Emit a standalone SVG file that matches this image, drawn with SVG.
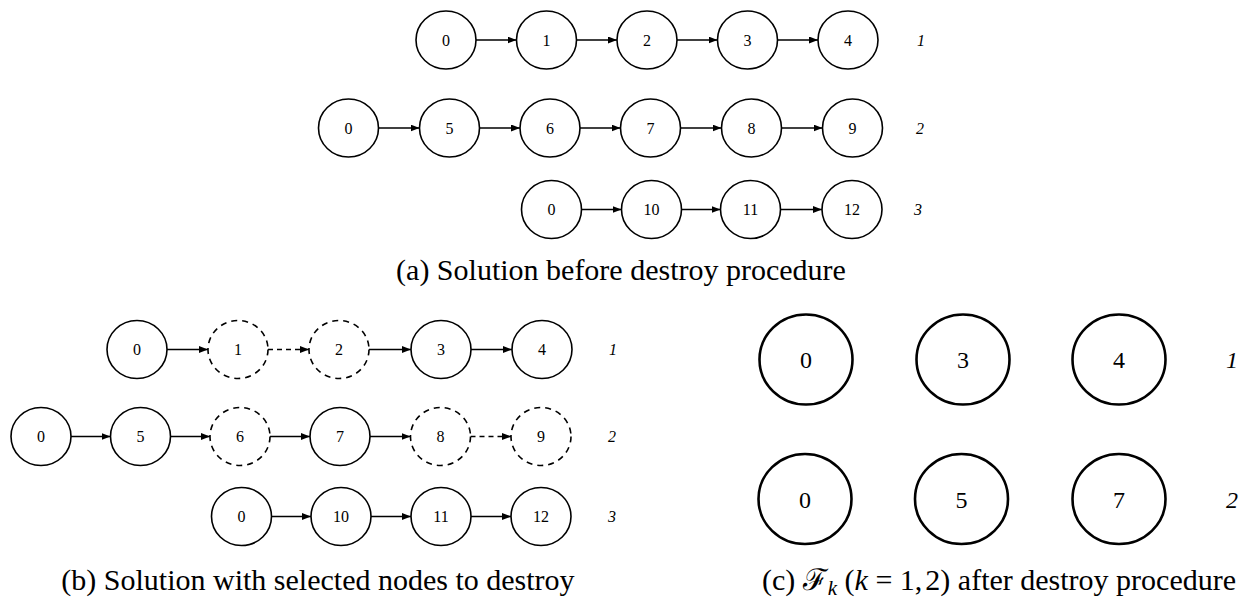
<svg xmlns="http://www.w3.org/2000/svg" width="1244" height="598" viewBox="0 0 1244 598">
  <style>
    .n { fill: #fff; stroke: #000; stroke-width: 1.6; }
    .nd { fill: #fff; stroke: #000; stroke-width: 1.6; stroke-dasharray: 6 5; }
    .nb { fill: #fff; stroke: #000; stroke-width: 2.6; }
    .e { stroke: #000; stroke-width: 1.6; fill: none; }
    .ed { stroke: #000; stroke-width: 1.6; fill: none; stroke-dasharray: 5 4; }
    .t { font-family: "Liberation Serif", "Times New Roman", serif; font-size: 16px; text-anchor: middle; fill: #000; }
    .tb { font-family: "Liberation Serif", "Times New Roman", serif; font-size: 24px; text-anchor: middle; fill: #000; }
    .lab { font-family: "Liberation Serif", "Times New Roman", serif; font-size: 16px; font-style: italic; text-anchor: middle; fill: #000; }
    .labb { font-family: "Liberation Serif", "Times New Roman", serif; font-size: 24px; font-style: italic; text-anchor: middle; fill: #000; }
    .cap { font-family: "Liberation Serif", "Times New Roman", "DejaVu Serif", serif; font-size: 30px; text-anchor: middle; fill: #000; }
  </style>
  <defs>
    <marker id="arr" markerUnits="userSpaceOnUse" markerWidth="9" markerHeight="7" refX="9" refY="3.5" orient="auto">
      <path d="M0,0 L9,3.5 L0,7 z" fill="#000"/>
    </marker>
  </defs>

  <!-- connectors -->
  <g id="connectors">
    <!-- (a) route 1 -->
    <line class="e" x1="476" y1="40" x2="516.5" y2="40" marker-end="url(#arr)"/>
    <line class="e" x1="576.5" y1="40" x2="617" y2="40" marker-end="url(#arr)"/>
    <line class="e" x1="677" y1="40" x2="717.5" y2="40" marker-end="url(#arr)"/>
    <line class="e" x1="777.5" y1="40" x2="818" y2="40" marker-end="url(#arr)"/>
    <!-- (a) route 2 -->
    <line class="e" x1="378.5" y1="128" x2="419.5" y2="128" marker-end="url(#arr)"/>
    <line class="e" x1="479.5" y1="128" x2="520" y2="128" marker-end="url(#arr)"/>
    <line class="e" x1="580" y1="128" x2="620.5" y2="128" marker-end="url(#arr)"/>
    <line class="e" x1="680.5" y1="128" x2="721.5" y2="128" marker-end="url(#arr)"/>
    <line class="e" x1="781.5" y1="128" x2="822.5" y2="128" marker-end="url(#arr)"/>
    <!-- (a) route 3 -->
    <line class="e" x1="581.5" y1="209.5" x2="621.5" y2="209.5" marker-end="url(#arr)"/>
    <line class="e" x1="681.5" y1="209.5" x2="720.5" y2="209.5" marker-end="url(#arr)"/>
    <line class="e" x1="780.5" y1="209.5" x2="822" y2="209.5" marker-end="url(#arr)"/>

    <!-- (b) route 1 -->
    <line class="e" x1="167" y1="349.5" x2="208" y2="349.5" marker-end="url(#arr)"/>
    <line class="ed" x1="268" y1="349.5" x2="309" y2="349.5" marker-end="url(#arr)"/>
    <line class="e" x1="369" y1="349.5" x2="411" y2="349.5" marker-end="url(#arr)"/>
    <line class="e" x1="471" y1="349.5" x2="512" y2="349.5" marker-end="url(#arr)"/>
    <!-- (b) route 2 -->
    <line class="e" x1="71" y1="436.5" x2="110.5" y2="436.5" marker-end="url(#arr)"/>
    <line class="e" x1="170.5" y1="436.5" x2="210" y2="436.5" marker-end="url(#arr)"/>
    <line class="e" x1="270" y1="436.5" x2="310" y2="436.5" marker-end="url(#arr)"/>
    <line class="e" x1="370" y1="436.5" x2="410.5" y2="436.5" marker-end="url(#arr)"/>
    <line class="ed" x1="470.5" y1="436.5" x2="511" y2="436.5" marker-end="url(#arr)"/>
    <!-- (b) route 3 -->
    <line class="e" x1="271.5" y1="516.5" x2="311" y2="516.5" marker-end="url(#arr)"/>
    <line class="e" x1="371" y1="516.5" x2="411" y2="516.5" marker-end="url(#arr)"/>
    <line class="e" x1="471" y1="516.5" x2="511" y2="516.5" marker-end="url(#arr)"/>
  </g>

  <!-- (a) solution before destroy procedure -->
  <g id="a-r1-0"><ellipse class="n" cx="446" cy="40" rx="30" ry="29"/><text class="t" x="446" y="45.5">0</text></g>
  <g id="a-r1-1"><ellipse class="n" cx="546.5" cy="40" rx="30" ry="29"/><text class="t" x="546.5" y="45.5">1</text></g>
  <g id="a-r1-2"><ellipse class="n" cx="647" cy="40" rx="30" ry="29"/><text class="t" x="647" y="45.5">2</text></g>
  <g id="a-r1-3"><ellipse class="n" cx="747.5" cy="40" rx="30" ry="29"/><text class="t" x="747.5" y="45.5">3</text></g>
  <g id="a-r1-4"><ellipse class="n" cx="848" cy="40" rx="30" ry="29"/><text class="t" x="848" y="45.5">4</text></g>
  <text class="lab" x="921" y="45.5">1</text>

  <g id="a-r2-0"><ellipse class="n" cx="348.5" cy="128" rx="30" ry="29"/><text class="t" x="348.5" y="133.5">0</text></g>
  <g id="a-r2-5"><ellipse class="n" cx="449.5" cy="128" rx="30" ry="29"/><text class="t" x="449.5" y="133.5">5</text></g>
  <g id="a-r2-6"><ellipse class="n" cx="550" cy="128" rx="30" ry="29"/><text class="t" x="550" y="133.5">6</text></g>
  <g id="a-r2-7"><ellipse class="n" cx="650.5" cy="128" rx="30" ry="29"/><text class="t" x="650.5" y="133.5">7</text></g>
  <g id="a-r2-8"><ellipse class="n" cx="751.5" cy="128" rx="30" ry="29"/><text class="t" x="751.5" y="133.5">8</text></g>
  <g id="a-r2-9"><ellipse class="n" cx="852.5" cy="128" rx="30" ry="29"/><text class="t" x="852.5" y="133.5">9</text></g>
  <text class="lab" x="920" y="133.5">2</text>

  <g id="a-r3-0"><ellipse class="n" cx="551.5" cy="209.5" rx="30" ry="29"/><text class="t" x="551.5" y="215">0</text></g>
  <g id="a-r3-10"><ellipse class="n" cx="651.5" cy="209.5" rx="30" ry="29"/><text class="t" x="651.5" y="215">10</text></g>
  <g id="a-r3-11"><ellipse class="n" cx="750.5" cy="209.5" rx="30" ry="29"/><text class="t" x="750.5" y="215">11</text></g>
  <g id="a-r3-12"><ellipse class="n" cx="852" cy="209.5" rx="30" ry="29"/><text class="t" x="852" y="215">12</text></g>
  <text class="lab" x="918" y="215">3</text>

  <text class="cap" x="621" y="280">(a) Solution before destroy procedure</text>

  <!-- (b) solution with selected nodes to destroy -->
  <g id="b-r1-0"><ellipse class="n" cx="137" cy="349.5" rx="30" ry="29"/><text class="t" x="137" y="355">0</text></g>
  <g id="b-r1-1"><ellipse class="nd" cx="238" cy="349.5" rx="30" ry="29"/><text class="t" x="238" y="355">1</text></g>
  <g id="b-r1-2"><ellipse class="nd" cx="339" cy="349.5" rx="30" ry="29"/><text class="t" x="339" y="355">2</text></g>
  <g id="b-r1-3"><ellipse class="n" cx="441" cy="349.5" rx="30" ry="29"/><text class="t" x="441" y="355">3</text></g>
  <g id="b-r1-4"><ellipse class="n" cx="542" cy="349.5" rx="30" ry="29"/><text class="t" x="542" y="355">4</text></g>
  <text class="lab" x="613" y="355">1</text>

  <g id="b-r2-0"><ellipse class="n" cx="41" cy="436.5" rx="30" ry="29"/><text class="t" x="41" y="442">0</text></g>
  <g id="b-r2-5"><ellipse class="n" cx="140.5" cy="436.5" rx="30" ry="29"/><text class="t" x="140.5" y="442">5</text></g>
  <g id="b-r2-6"><ellipse class="nd" cx="240" cy="436.5" rx="30" ry="29"/><text class="t" x="240" y="442">6</text></g>
  <g id="b-r2-7"><ellipse class="n" cx="340" cy="436.5" rx="30" ry="29"/><text class="t" x="340" y="442">7</text></g>
  <g id="b-r2-8"><ellipse class="nd" cx="440.5" cy="436.5" rx="30" ry="29"/><text class="t" x="440.5" y="442">8</text></g>
  <g id="b-r2-9"><ellipse class="nd" cx="541" cy="436.5" rx="30" ry="29"/><text class="t" x="541" y="442">9</text></g>
  <text class="lab" x="612" y="442">2</text>

  <g id="b-r3-0"><ellipse class="n" cx="241.5" cy="516.5" rx="30" ry="29"/><text class="t" x="241.5" y="522">0</text></g>
  <g id="b-r3-10"><ellipse class="n" cx="341" cy="516.5" rx="30" ry="29"/><text class="t" x="341" y="522">10</text></g>
  <g id="b-r3-11"><ellipse class="n" cx="441" cy="516.5" rx="30" ry="29"/><text class="t" x="441" y="522">11</text></g>
  <g id="b-r3-12"><ellipse class="n" cx="541" cy="516.5" rx="30" ry="29"/><text class="t" x="541" y="522">12</text></g>
  <text class="lab" x="612" y="522">3</text>

  <text class="cap" x="318" y="590">(b) Solution with selected nodes to destroy</text>

  <!-- (c) node sets after destroy procedure -->
  <g id="c-r1-0"><ellipse class="nb" cx="806" cy="359.5" rx="46.5" ry="45"/><text class="tb" x="806" y="368">0</text></g>
  <g id="c-r1-3"><ellipse class="nb" cx="963" cy="359.5" rx="46.5" ry="45"/><text class="tb" x="963" y="368">3</text></g>
  <g id="c-r1-4"><ellipse class="nb" cx="1119" cy="359.5" rx="46.5" ry="45"/><text class="tb" x="1119" y="368">4</text></g>
  <text class="labb" x="1232" y="368">1</text>

  <g id="c-r2-0"><ellipse class="nb" cx="805" cy="499" rx="46.5" ry="45"/><text class="tb" x="805" y="507.5">0</text></g>
  <g id="c-r2-5"><ellipse class="nb" cx="961.5" cy="499" rx="46.5" ry="45"/><text class="tb" x="961.5" y="507.5">5</text></g>
  <g id="c-r2-7"><ellipse class="nb" cx="1119" cy="499" rx="46.5" ry="45"/><text class="tb" x="1119" y="507.5">7</text></g>
  <text class="labb" x="1232" y="507.5">2</text>

  <text class="cap" x="999" y="590">(c) ℱ<tspan font-style="italic" font-size="21" dy="5">k</tspan><tspan dy="-5"> (</tspan><tspan font-style="italic">k</tspan> = 1,<tspan dx="3">2)</tspan> after destroy procedure</text>
</svg>
